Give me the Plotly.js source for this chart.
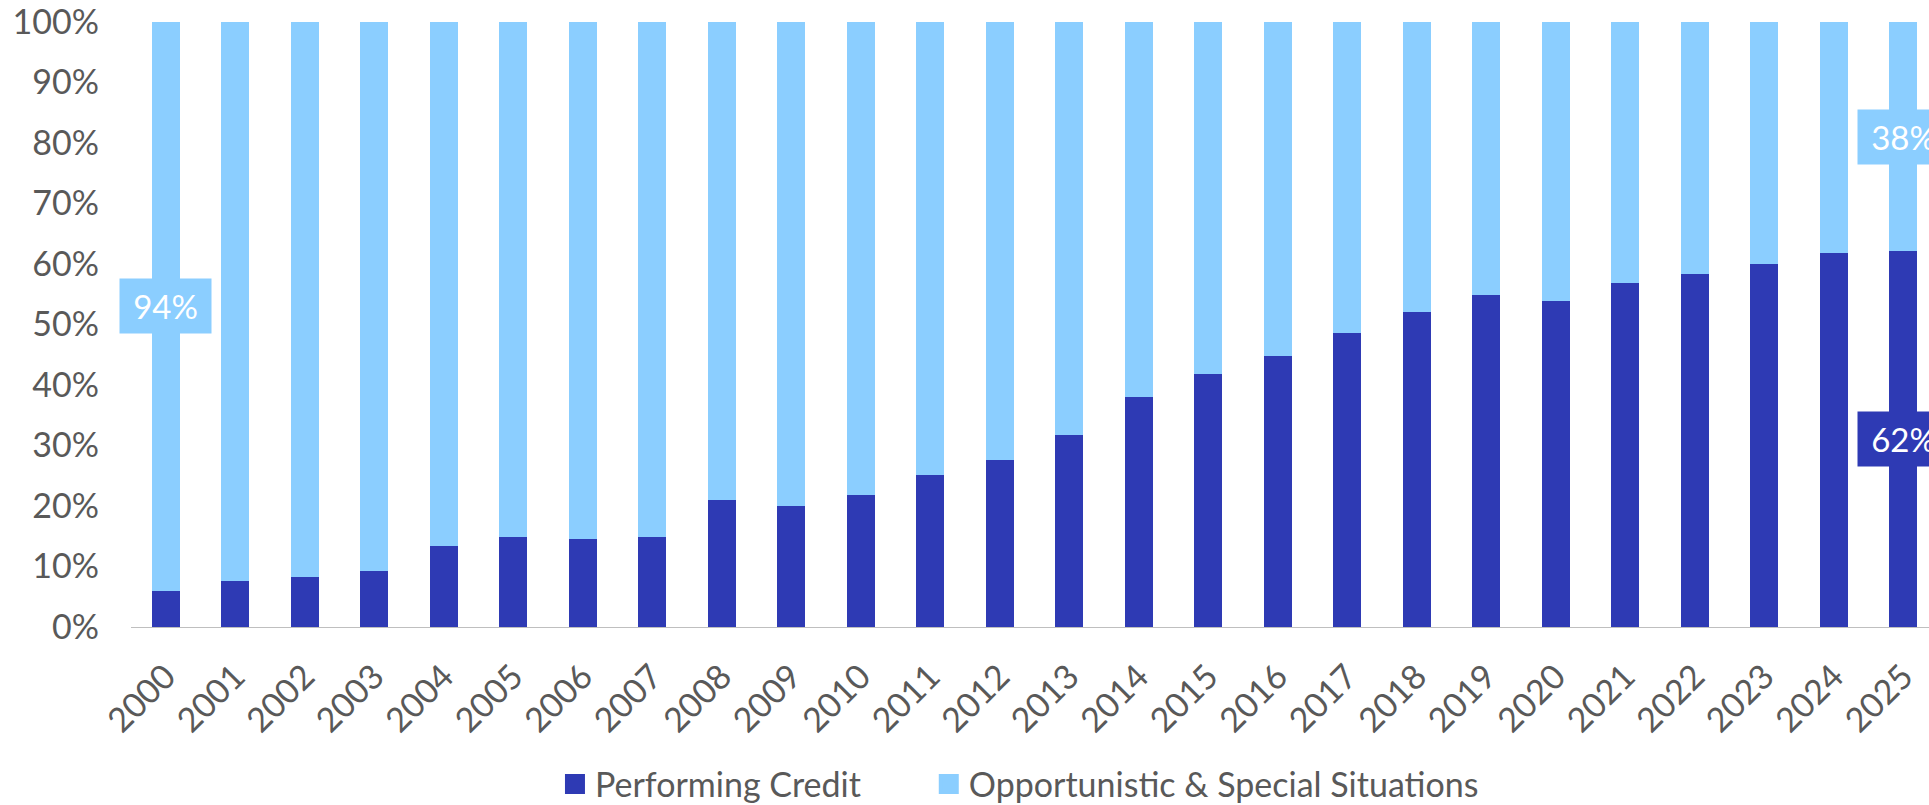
<!DOCTYPE html>
<html>
<head>
<meta charset="utf-8">
<script src="https://cdn.plot.ly/plotly-3.0.1.min.js"></script>
<style>
  html, body { margin: 0; padding: 0; background: #ffffff; }
  #chart { width: 1929px; height: 805px; }
</style>
</head>
<body>
<div id="chart"></div>
<script>
// Categories (years)
const years = ['2000','2001','2002','2003','2004','2005','2006','2007','2008','2009',
               '2010','2011','2012','2013','2014','2015','2016','2017','2018','2019',
               '2020','2021','2022','2023','2024','2025'];

// Share of Performing Credit (%)
const performingCredit = [6.0, 7.6, 8.3, 9.3, 13.4, 14.9, 14.5, 14.9, 21.0, 20.0,
                          21.8, 25.1, 27.6, 31.7, 38.0, 41.8, 44.8, 48.6, 52.1, 54.9,
                          53.9, 56.9, 58.3, 60.0, 61.8, 62.1];

// Share of Opportunistic & Special Situations (%)
const opportunistic = [94.0, 92.4, 91.7, 90.7, 86.6, 85.1, 85.5, 85.1, 79.0, 80.0,
                       78.2, 74.9, 72.4, 68.3, 62.0, 58.2, 55.2, 51.4, 47.9, 45.1,
                       46.1, 43.1, 41.7, 40.0, 38.2, 37.9];

// Y-axis ticks
const yTickVals = [0, 10, 20, 30, 40, 50, 60, 70, 80, 90, 100];
const yTickText = ['0%','10%','20%','30%','40%','50%','60%','70%','80%','90%','100%'];

// Which bars carry value labels
const labelledOpp = ['2000', '2025'];
const labelledPerf = ['2025'];

const COLOR_PERF = '#2E3AB4';
const COLOR_OPP = '#8BCEFF';
const FONT = 'Lato, "Open Sans", sans-serif';
const GREY = '#595959';
const FS = 34;

const traces = [
  {
    type: 'bar', name: 'Performing Credit', x: years, y: performingCredit,
    marker: { color: COLOR_PERF }, hoverinfo: 'x+y', showlegend: false
  },
  {
    type: 'bar', name: 'Opportunistic & Special Situations', x: years, y: opportunistic,
    marker: { color: COLOR_OPP }, hoverinfo: 'x+y', showlegend: false
  },
  // legend-only entries (larger square swatches)
  {
    type: 'scatter', mode: 'markers', name: 'Performing Credit', x: [null], y: [null],
    marker: { symbol: 'square', size: 16, color: COLOR_PERF, line: { color: COLOR_PERF, width: 4 } },
    hoverinfo: 'skip', legend: 'legend'
  },
  {
    type: 'scatter', mode: 'markers', name: 'Opportunistic & Special Situations', x: [null], y: [null],
    marker: { symbol: 'square', size: 16, color: COLOR_OPP, line: { color: COLOR_OPP, width: 4 } },
    hoverinfo: 'skip', legend: 'legend2'
  }
];

const annotations = [];
function addLabel(idx, centre, val, color) {
  annotations.push({
    x: idx, y: centre, xref: 'x', yref: 'y',
    text: Math.round(val) + '%', showarrow: false,
    font: { family: FONT, size: 33, color: '#FFFFFF' },
    bgcolor: color, borderpad: 7, width: 77, height: 40,
    xanchor: 'center', yanchor: 'middle'
  });
}
labelledOpp.forEach(yr => {
  const i = years.indexOf(yr);
  addLabel(i, performingCredit[i] + opportunistic[i] / 2, opportunistic[i], COLOR_OPP);
});
labelledPerf.forEach(yr => {
  const i = years.indexOf(yr);
  addLabel(i, performingCredit[i] / 2, performingCredit[i], COLOR_PERF);
});

const legendCommon = {
  orientation: 'h', yanchor: 'middle', y: -0.26, xanchor: 'left',
  font: { family: FONT, size: FS, color: GREY }, itemwidth: 30,
  bgcolor: 'rgba(0,0,0,0)', borderwidth: 0
};

const layout = {
  width: 1929, height: 805,
  margin: { l: 131, r: 0, t: 22, b: 178, autoexpand: false },
  paper_bgcolor: '#ffffff', plot_bgcolor: '#ffffff',
  barmode: 'stack', bargap: 0.6,
  font: { family: FONT, size: FS, color: GREY },
  showlegend: true,
  legend: Object.assign({}, legendCommon, { x: 0.2358 }),
  legend2: Object.assign({}, legendCommon, { x: 0.4437 }),
  xaxis: {
    type: 'category', range: [-0.5, 25.37], tickangle: -45,
    showgrid: false, zeroline: false, showline: true, linecolor: '#BFBFBF', linewidth: 1,
    ticks: '', ticklabelstandoff: 15, ticklabeloverflow: 'allow',
    tickfont: { family: FONT, size: FS, color: GREY }, fixedrange: true
  },
  yaxis: {
    range: [0, 100], tickvals: yTickVals, ticktext: yTickText,
    showgrid: false, zeroline: false, showline: false, ticks: '',
    ticklabelstandoff: 31, ticklabeloverflow: 'allow',
    tickfont: { family: FONT, size: FS, color: GREY }, fixedrange: true
  },
  annotations: annotations
};

Plotly.newPlot('chart', traces, layout, { displayModeBar: false, responsive: false });
</script>
</body>
</html>
